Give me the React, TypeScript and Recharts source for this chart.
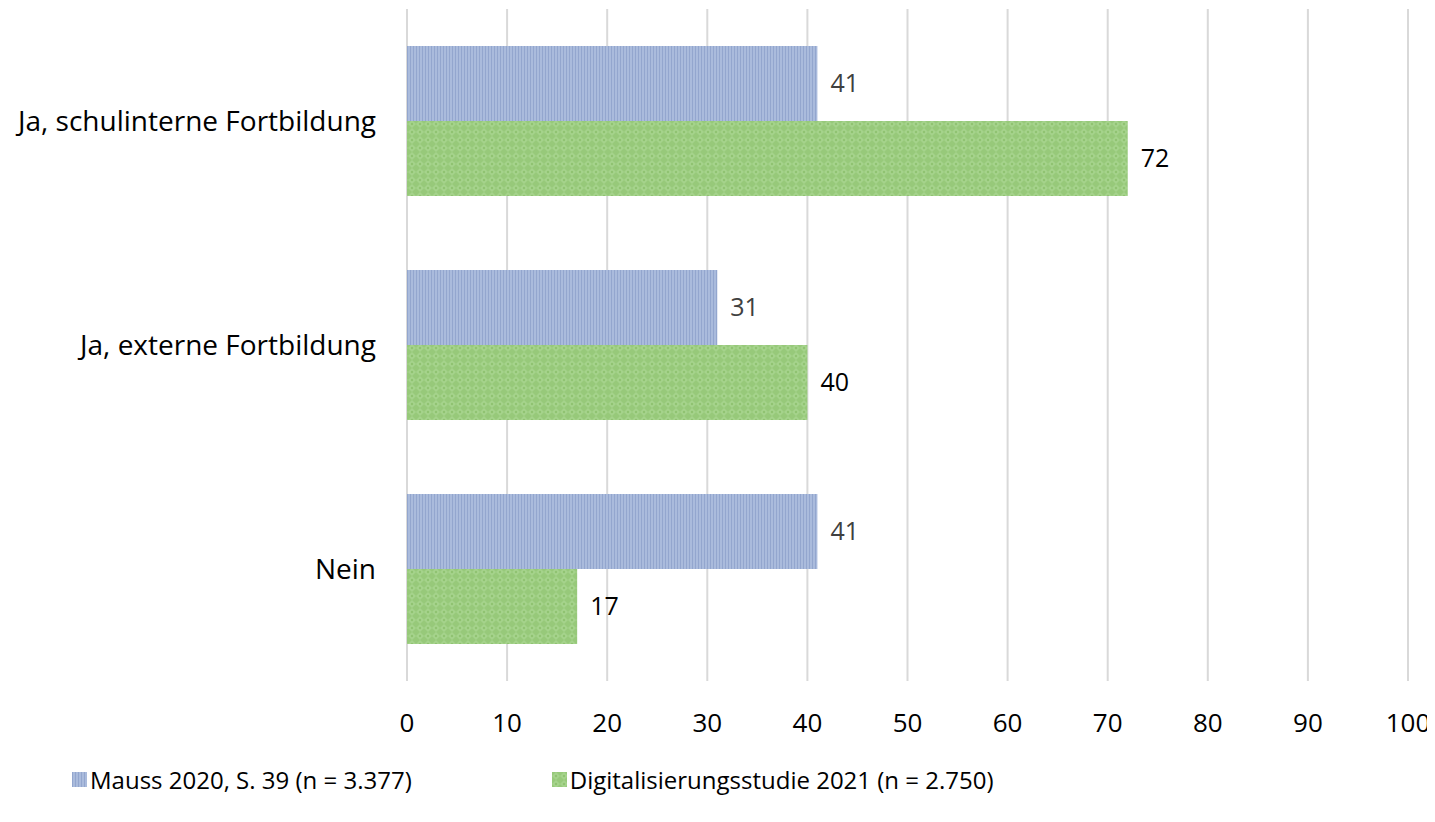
import React from "react";
import {
  BarChart,
  Bar,
  XAxis,
  YAxis,
  CartesianGrid,
  LabelList,
  Legend,
} from "recharts";

const categories = [
  "Ja, schulinterne Fortbildung",
  "Ja, externe Fortbildung",
  "Nein",
];
const mauss2020 = [41, 31, 41];
const studie2021 = [72, 40, 17];
const xTicks = [0, 10, 20, 30, 40, 50, 60, 70, 80, 90, 100];

const SERIES = [
  { key: "mauss", name: "Mauss 2020, S. 39 (n = 3.377)", fill: "url(#stripes)", label: "#404040" },
  { key: "studie", name: "Digitalisierungsstudie 2021 (n = 2.750)", fill: "url(#checks)", label: "#000000" },
];

const data = categories.map((name, i) => ({
  name,
  mauss: mauss2020[i],
  studie: studie2021[i],
}));

const FONT = "'Open Sans', sans-serif";

// the last tick label sits right at the edge, so let the svg spill over
const PAGE_CSS = "body{overflow:hidden}.recharts-surface{overflow:visible}";

const CategoryTick = (props: any) => {
  const { x, y, payload } = props;
  return (
    <text x={x - 23} y={y} dy={10} textAnchor="end" fontSize={28} fill="#000" fontFamily={FONT}>
      {payload.value}
    </text>
  );
};

const ValueTick = (props: any) => {
  const { x, y, payload } = props;
  return (
    <text x={x} y={y} dy={43} textAnchor="middle" fontSize={26} fill="#000" fontFamily={FONT}>
      {payload.value}
    </text>
  );
};

const LegendContent = () => (
  <div style={{ display: "flex", paddingLeft: 64, paddingTop: 22, fontFamily: FONT, fontSize: 24 }}>
    {SERIES.map((s) => (
      <div key={s.key} style={{ display: "flex", alignItems: "center", marginRight: 140 }}>
        <svg width={15} height={15} style={{ marginRight: 3 }}>
          <rect width={15} height={15} fill={s.fill} />
        </svg>
        <span>{s.name}</span>
      </div>
    ))}
  </div>
);

export default function App() {
  return (
    <div style={{ width: 1427, height: 800 }}>
      <style>{PAGE_CSS}</style>
      <BarChart
        width={1410}
        height={800}
        data={data}
        layout="vertical"
        margin={{ top: 1, right: 10, left: 0, bottom: 0 }}
        barCategoryGap={37}
        barGap={0}
      >
        <defs>
          <pattern id="stripes" width={3} height={4} patternUnits="userSpaceOnUse">
            <rect width={3} height={4} fill="#aabbdc" />
            <rect x={0} width={1} height={4} fill="#93a6ce" />
          </pattern>
          <pattern id="checks" width={8} height={8} patternUnits="userSpaceOnUse">
            <rect width={8} height={8} fill="#97c97a" />
            <path d="M0 4 L4 0 L8 4 L4 8 Z" fill="#a5d38c" />
            <circle cx={4} cy={4} r={1.2} fill="#90c371" />
          </pattern>
        </defs>
        <CartesianGrid horizontal={false} stroke="#d9d9d9" strokeWidth={2} />
        <XAxis
          type="number"
          domain={[0, 100]}
          ticks={xTicks}
          interval={0}
          axisLine={false}
          tickLine={false}
          height={60}
          tick={<ValueTick />}
        />
        <YAxis
          type="category"
          dataKey="name"
          width={399}
          axisLine={false}
          tickLine={false}
          tick={<CategoryTick />}
        />
        <Legend verticalAlign="bottom" wrapperStyle={{ height: 67 }} content={<LegendContent />} />
        {SERIES.map((s) => (
          <Bar key={s.key} dataKey={s.key} name={s.name} fill={s.fill} isAnimationActive={false}>
            <LabelList
              dataKey={s.key}
              position="right"
              offset={13}
              fontSize={25}
              fill={s.label}
              fontFamily={FONT}
            />
          </Bar>
        ))}
      </BarChart>
    </div>
  );
}
